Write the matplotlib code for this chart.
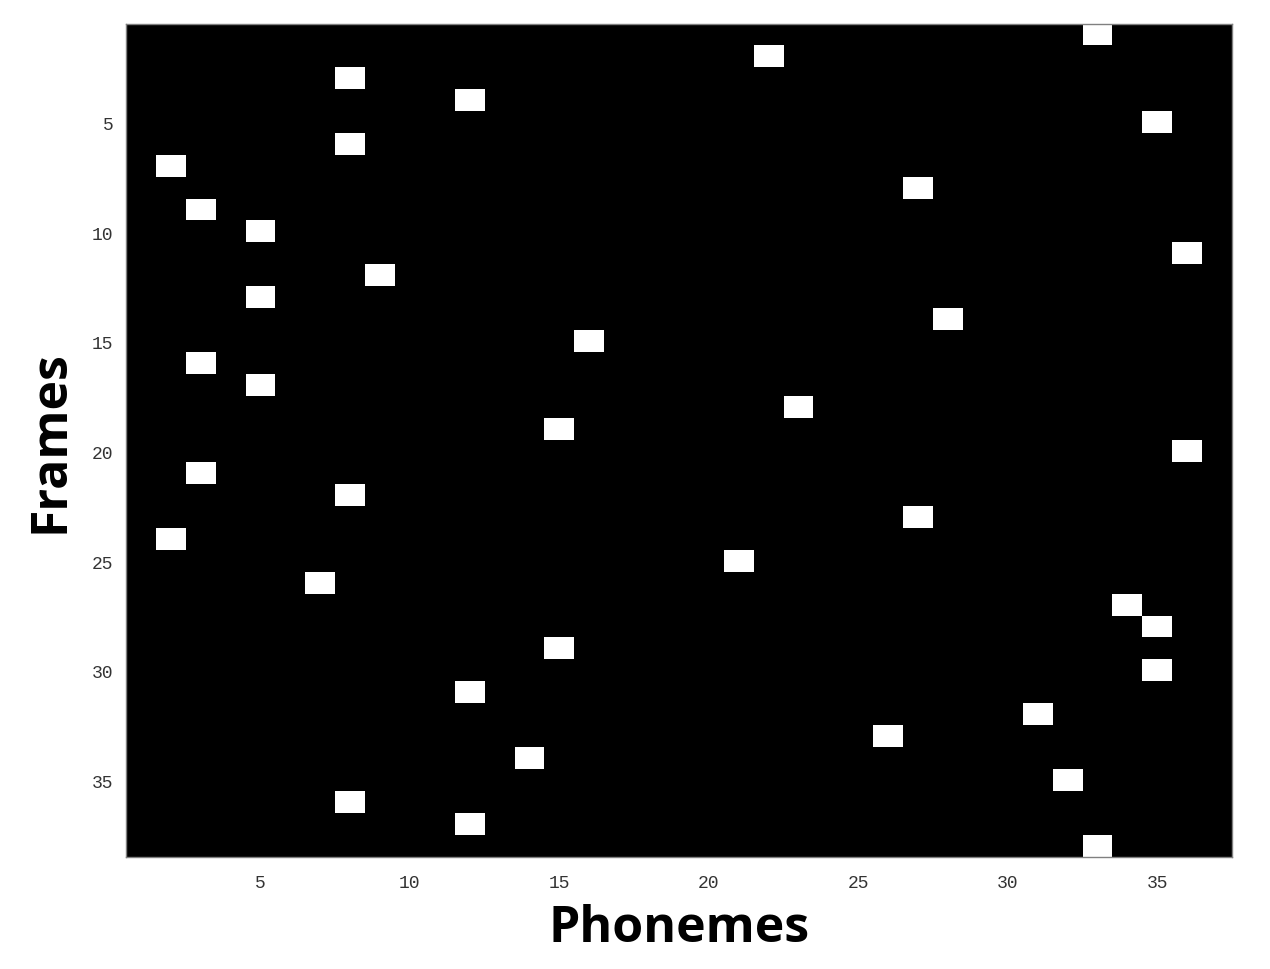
import numpy as np
import matplotlib
matplotlib.use("Agg")
import matplotlib.pyplot as plt

n_frames = 38
n_phonemes = 37
# phoneme index (1-based) active in each frame 1..38
active_phoneme = [33, 22, 8, 12, 35, 8, 2, 27, 3, 5,
                  36, 9, 5, 28, 16, 3, 5, 23, 15, 36,
                  3, 8, 27, 2, 21, 7, 34, 35, 15, 35,
                  12, 31, 26, 14, 32, 8, 12, 33]
x_ticks = [5, 10, 15, 20, 25, 30, 35]
y_ticks = [5, 10, 15, 20, 25, 30, 35]

mat = np.zeros((n_frames, n_phonemes))
for f, p in enumerate(active_phoneme):
    mat[f, p - 1] = 1

fig = plt.figure(figsize=(12.7, 9.7), dpi=100)
ax = fig.add_axes([0.0992, 0.1155, 0.8708, 0.8588])
ax.imshow(mat, cmap="gray", aspect="auto", interpolation="nearest",
          extent=[0.5, n_phonemes + 0.5, n_frames + 0.5, 0.5], vmin=0, vmax=1)
ax.set_xticks(x_ticks)
ax.set_yticks(y_ticks)
ax.tick_params(length=0, labelsize=13, labelcolor="#333333")
ax.tick_params(axis="x", pad=12)
ax.tick_params(axis="y", pad=9)
for lab in ax.get_xticklabels() + ax.get_yticklabels():
    lab.set_fontfamily("Liberation Mono")
for s in ax.spines.values():
    s.set_color("#808080")
    s.set_linewidth(1)
ax.set_xlabel("Phonemes", fontfamily="Open Sans", fontweight="bold", fontsize=36, labelpad=9)
ax.set_ylabel("Frames", fontfamily="Open Sans", fontweight="bold", fontsize=36, labelpad=12)
fig.savefig("out.png", dpi=100)
